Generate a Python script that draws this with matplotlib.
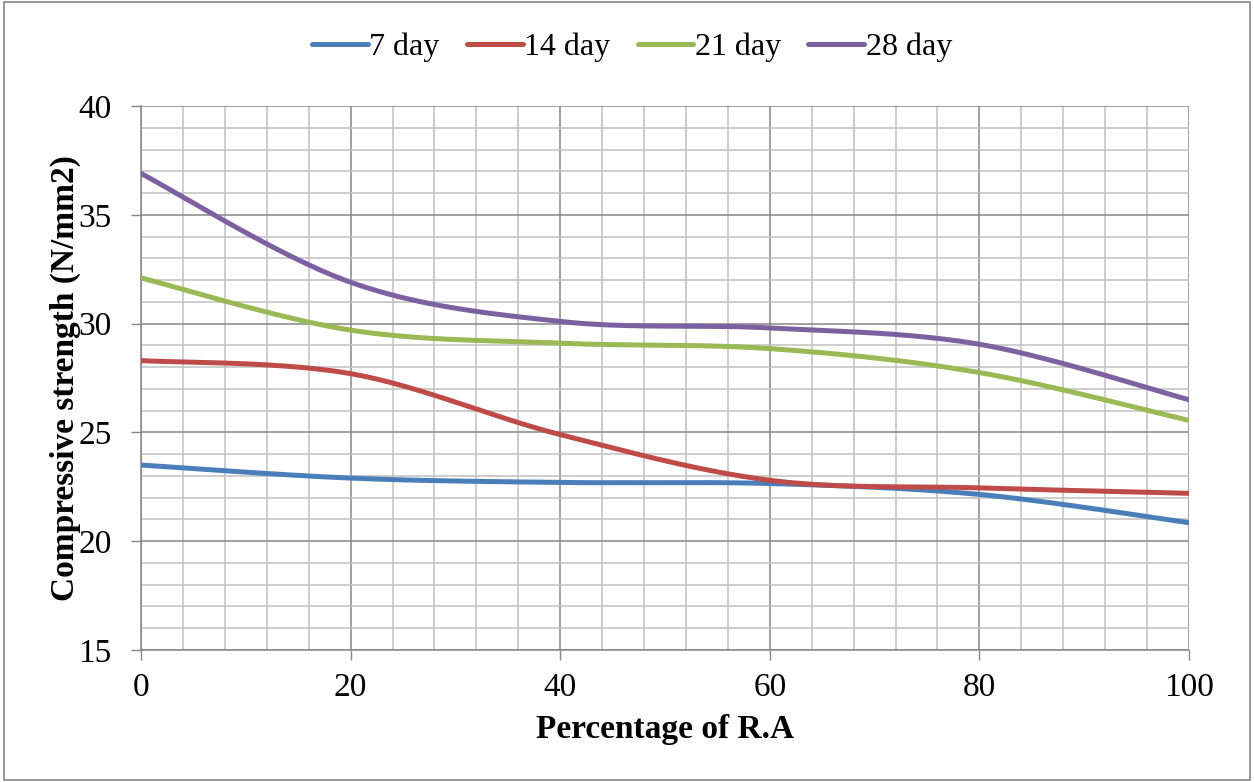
import numpy as np
import matplotlib
matplotlib.use("Agg")
import matplotlib.pyplot as plt
from matplotlib.ticker import MultipleLocator

x_vals = [0, 20, 40, 60, 80, 100]
day7 = [23.5, 22.9, 22.7, 22.65, 22.15, 20.85]
day14 = [28.3, 27.7, 24.9, 22.8, 22.45, 22.2]
day21 = [32.1, 29.7, 29.1, 28.85, 27.75, 25.55]
day28 = [36.9, 31.9, 30.1, 29.8, 29.05, 26.5]
labels = ["7 day", "14 day", "21 day", "28 day"]
colors = ["#4a7ebb", "#be4b48", "#98b954", "#7d60a0"]

def smooth(xs, ys, n=40):
    P = np.column_stack([xs, ys]).astype(float)
    ext = np.vstack([P[0], P, P[-1]])
    out = []
    t = np.linspace(0, 1, n)[:, None]
    for i in range(len(P) - 1):
        p0, p3 = ext[i + 1], ext[i + 2]
        c1 = p0 + (ext[i + 2] - ext[i]) / 6
        c2 = p3 - (ext[i + 3] - ext[i + 1]) / 6
        seg = (1 - t) ** 3 * p0 + 3 * (1 - t) ** 2 * t * c1 + 3 * (1 - t) * t ** 2 * c2 + t ** 3 * p3
        out.append(seg if i == 0 else seg[1:])
    s = np.vstack(out)
    return s[:, 0], s[:, 1]

plt.rcParams['font.family'] = ['Liberation Serif', 'DejaVu Serif']

fig = plt.figure(figsize=(12.54, 7.82), dpi=100)
ax = fig.add_axes([141/1254, 1 - 650/782, (1189-141)/1254, (650-106)/782])

for ys, lab, c in zip([day7, day14, day21, day28], labels, colors):
    sx, sy = smooth(x_vals, ys)
    ax.plot(sx, sy, color=c, lw=3.6, label=lab, solid_capstyle='round', zorder=3)

ax.set_xlim(0, 100)
ax.set_ylim(15, 40)
ax.xaxis.set_major_locator(MultipleLocator(20))
ax.xaxis.set_minor_locator(MultipleLocator(4))
ax.yaxis.set_major_locator(MultipleLocator(5))
ax.yaxis.set_minor_locator(MultipleLocator(1))
ax.grid(which='major', color='#868686', lw=1.1, zorder=1)
ax.grid(which='minor', color='#c0c0c0', lw=1.1, zorder=0)
ax.tick_params(which='major', direction='out', length=7, width=1, color='#868686',
               labelsize=24)
ax.tick_params(axis='x', which='major', pad=9)
ax.tick_params(axis='y', which='major', pad=14)
ax.tick_params(which='minor', length=0)
for side in ['top', 'right']:
    ax.spines[side].set_visible(False)
for side in ['left', 'bottom']:
    ax.spines[side].set_color('#868686')
    ax.spines[side].set_linewidth(1.1)

ax.set_xlabel("Percentage of R.A", fontsize=24, fontweight='bold', labelpad=8)
ax.set_ylabel("Compressive strength (N/mm2)", fontsize=24, fontweight='bold', labelpad=-2)

fig.legend(loc='center', bbox_to_anchor=(632/1254, 1 - 47/782), ncol=4, frameon=False,
           fontsize=23, handlelength=1.75, handletextpad=0.05, columnspacing=0.85)

border = plt.Rectangle((0.003, 0.003), 0.994, 0.994, transform=fig.transFigure,
                       fill=False, edgecolor='#868686', lw=1.2)
fig.patches.append(border)

fig.savefig("out.png", dpi=100)
